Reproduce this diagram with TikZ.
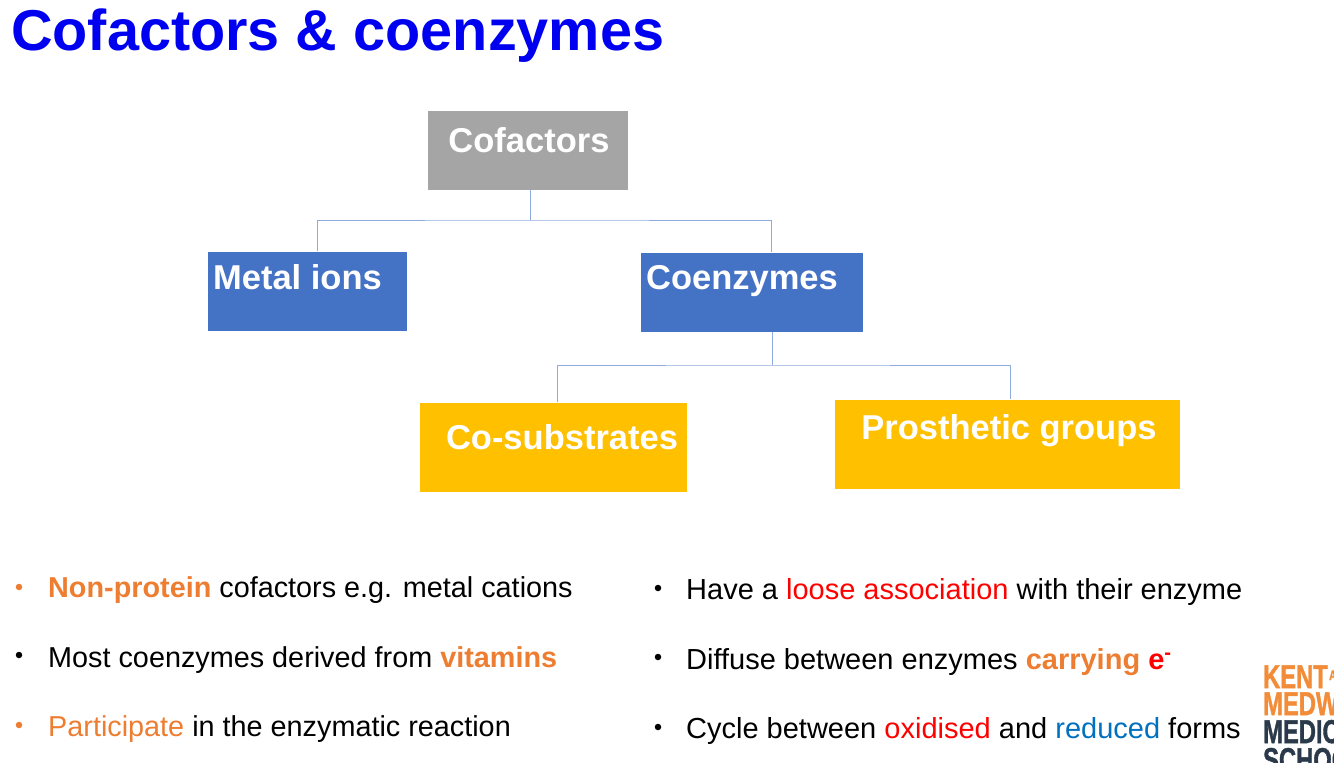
\documentclass[tikz,border=0pt]{standalone}
\usepackage{fontspec}
\setmainfont{Liberation Sans}
\newfontfamily\logofont[FakeBold=1.5]{Liberation Sans Bold}
\definecolor{boxgray}{HTML}{A5A5A5}
\definecolor{boxblue}{HTML}{4472C4}
\definecolor{boxgold}{HTML}{FFC000}
\definecolor{linkblue}{HTML}{8FAADC}
\definecolor{accent}{HTML}{ED7D31}
\definecolor{titleblue}{HTML}{0000F0}
\definecolor{kentorange}{HTML}{F28C38}
\definecolor{kentdark}{HTML}{2B3A4A}
\tikzset{box/.style={rectangle,inner sep=0pt},
 boxtext/.style={text=white,font=\fontsize{34.5}{34.5}\selectfont\bfseries,anchor=base,inner sep=0pt},
 link/.style={draw=linkblue,line width=1pt},
 item/.style={font=\fontsize{28.8}{28.8}\selectfont,anchor=base west,inner sep=0pt},
 itemr/.style={item,font=\fontsize{29}{29}\selectfont},
 dot/.style={circle,fill=black,minimum size=6.5pt,inner sep=0pt},
 logo/.style={font=\fontsize{33}{33}\logofont,anchor=base west,inner sep=0pt,xscale=.72}}

\begin{document}
\begin{tikzpicture}[x=1pt,y=-1pt]
 \useasboundingbox (0,0) rectangle (1334,763);
 \clip (0,0) rectangle (1334,763);
 \node[anchor=base west,inner sep=0pt,text=titleblue,font=\fontsize{57.6}{57.6}\selectfont\bfseries] (title) at (11,50) {Cofactors \& coenzymes};
 % boxes
 \node[box,fill=boxgray,minimum width=200pt,minimum height=79pt] (cofactors) at (528,150) {};
 \node[box,fill=boxblue,minimum width=199pt,minimum height=79pt] (metal) at (307.5,291) {};
 \node[box,fill=boxblue,minimum width=222pt,minimum height=79pt] (coenzymes) at (752,292) {};
 \node[box,fill=boxgold,minimum width=267pt,minimum height=89pt] (cosub) at (553.5,447) {};
 \node[box,fill=boxgold,minimum width=345pt,minimum height=89pt] (prosthetic) at (1007.5,444) {};
 \node[boxtext] (cofactorslabel) at (529,152) {Cofactors};
 \node[boxtext] (metallabel) at (297.5,289) {Metal ions};
 \node[boxtext] (coenzymeslabel) at (742,289) {Coenzymes};
 \node[boxtext] (cosublabel) at (562,449) {Co-substrates};
 \node[boxtext] (prostheticlabel) at (1009,439) {Prosthetic groups};
 % connectors
 \coordinate (busa) at (530,220);
 \coordinate (busb) at (772,365);
 \draw[link] ([xshift=2pt]cofactors.south) -- (busa);
 \draw[link] ([xshift=9.5pt]metal.north) |- (busa) -| ([xshift=19pt]coenzymes.north);
 \draw[link] ([xshift=20pt]coenzymes.south) -- (busb);
 \draw[link] ([xshift=3.5pt]cosub.north) |- (busb) -| ([xshift=2.5pt]prosthetic.north);
 % left list
 \node[dot,fill=accent] (dota) at (19,587) {};
 \node[dot] (dotb) at (19,655) {};
 \node[dot,fill=accent] (dotc) at (19,725) {};
 \node[item] (lefta) at (48,597) {\textcolor{accent}{\bfseries Non-protein} cofactors e.g. metal cations};
 \node[item] (leftb) at (48,667) {Most coenzymes derived from \textcolor{accent}{\bfseries vitamins}};
 \node[item] (leftc) at (48,736) {\textcolor{accent}{Participate} in the enzymatic reaction};
 % right list
 \foreach \yy/\nm in {588/dotd,657/dote,727/dotf}{
  \node[dot] (\nm) at (658,\yy) {};
 }
 \node[itemr] (righta) at (686,599) {Have a \textcolor{red}{loose association} with their enzyme};
 \node[itemr] (rightb) at (686,669) {Diffuse between enzymes \textcolor{accent}{\bfseries carrying} \textcolor{red}{\bfseries e\textsuperscript{-}}};
 \node[itemr] (rightc) at (686,738) {Cycle between \textcolor{red}{oxidised} and \textcolor[HTML]{0070C0}{reduced} forms};
 % logo
 \node[logo,text=kentorange] (kent) at (1263,688) {KENT};
 \node[logo,text=kentorange,font=\fontsize{14}{14}\logofont] (kentand) at (1329,680) {A};
 \node[logo,text=kentorange] (medway) at (1263,715) {MEDW};
 \node[logo,text=kentdark] (medic) at (1263,743) {MEDIC};
 \node[logo,text=kentdark] (school) at (1263,771) {SCHOO};
\end{tikzpicture}
\end{document}
